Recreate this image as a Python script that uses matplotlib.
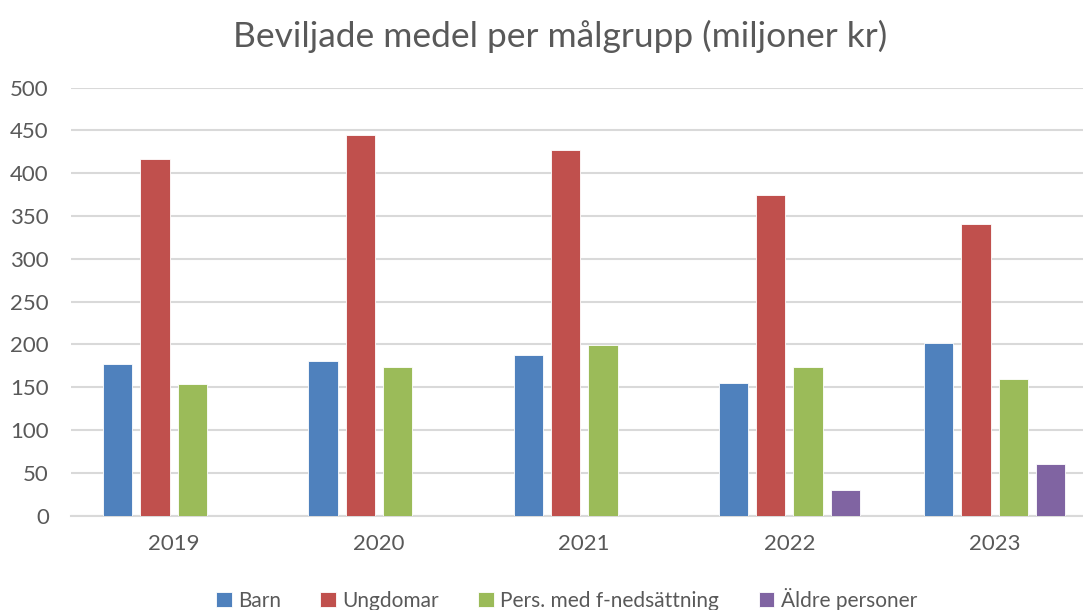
import matplotlib
matplotlib.use("Agg")
import matplotlib.pyplot as plt
import numpy as np

years = ["2019", "2020", "2021", "2022", "2023"]
series_names = ["Barn", "Ungdomar", "Pers. med f-nedsättning", "Äldre personer"]
barn = [177, 181, 187, 155, 202]
ungdomar = [417, 444, 427, 375, 340]
pers = [154, 174, 199, 173, 159]
aldre = [0, 0, 0, 30, 60]
colors = ["#4F81BD", "#C0504D", "#9BBB59", "#8064A2"]
yticks = [0, 50, 100, 150, 200, 250, 300, 350, 400, 450, 500]

plt.rcParams['font.family'] = ['Lato', 'DejaVu Sans']

fig = plt.figure(figsize=(10.83, 6.10), dpi=100)
ax = fig.add_axes([71/1083, 94.5/610, (1083-71)/1083, 428/610])

x = np.arange(len(years))
step = 0.1817
width = 0.143
data = [barn, ungdomar, pers, aldre]
for i, (vals, name, c) in enumerate(zip(data, series_names, colors)):
    ax.bar(x + (i - 1.5) * step, vals, width, color=c, label=name,
           edgecolor="#FFFFFF", linewidth=0.6, zorder=3)

ax.set_ylim(0, 500)
ax.set_xlim(-0.5, 4.43)
ax.set_yticks(yticks)
ax.set_xticks(x)
ax.set_xticklabels(years)
ax.yaxis.grid(True, color="#D9D9D9", linewidth=1.5, zorder=0)
ax.set_axisbelow(True)
for s in ["top", "right", "left"]:
    ax.spines[s].set_visible(False)
ax.spines["bottom"].set_color("#D9D9D9")
ax.spines["bottom"].set_linewidth(1.5)
ax.tick_params(axis="both", length=0, labelsize=16, colors="#595959")
ax.tick_params(axis="y", pad=16)
ax.tick_params(axis="x", pad=13)

fig.text(0.517, 0.94, "Beviljade medel per målgrupp (miljoner kr)", ha="center", va="center",
         fontsize=25.5, color="#595959")

leg = fig.legend(loc="center", bbox_to_anchor=(0.523, 0.017), ncol=4, frameon=False,
                 fontsize=15, handlelength=0.75, handleheight=0.75, handletextpad=0.3,
                 columnspacing=1.9, labelcolor="#595959")

fig.savefig("out.png", dpi=100)
